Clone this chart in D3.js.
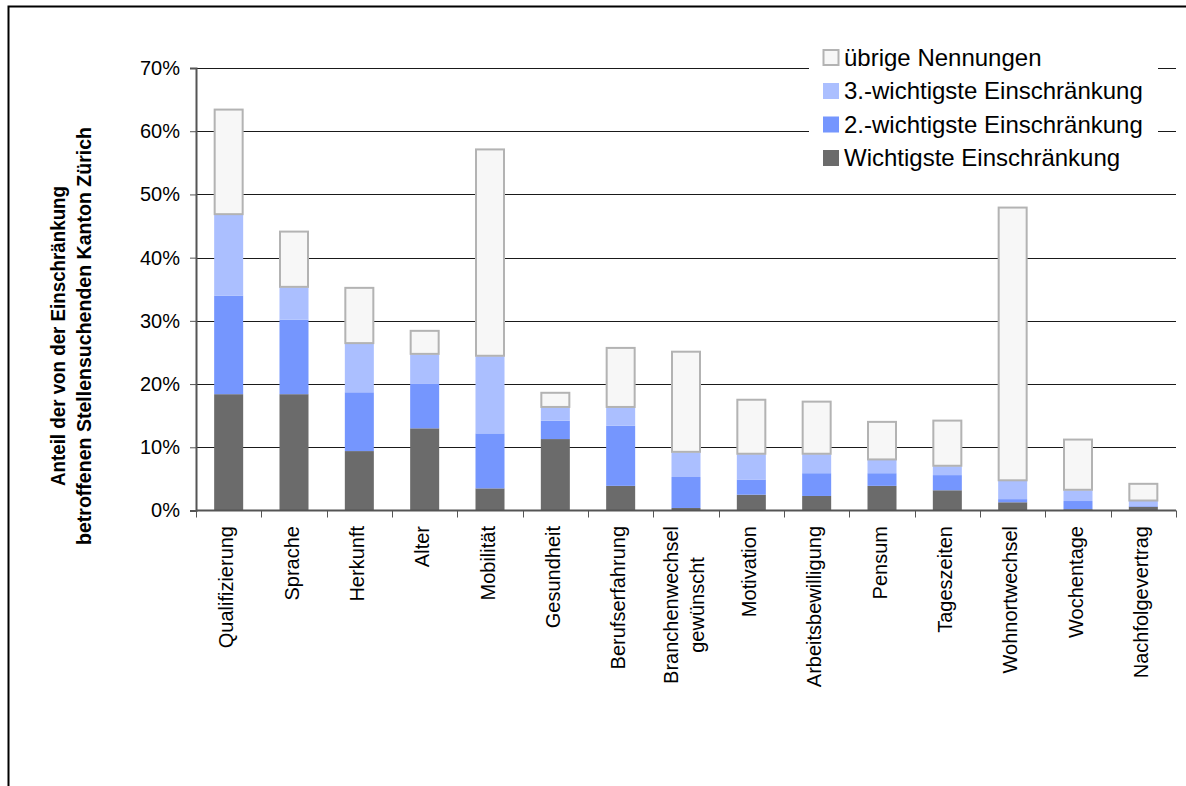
<!DOCTYPE html>
<html>
<head>
<meta charset="utf-8">
<script src="https://cdn.jsdelivr.net/npm/d3@7"></script>
<style>
  html, body { margin: 0; padding: 0; background: #fff; }
  svg { display: block; }
  text { font-family: "Liberation Sans", Arial, sans-serif; fill: #000; }
</style>
</head>
<body>
<svg id="chart" width="1186" height="786"></svg>
<script>
// Kategorien (Einschränkungen) und Anteile in Prozent
const categories = ["Qualifizierung", "Sprache", "Herkunft", "Alter", "Mobilität", "Gesundheit",
  "Berufserfahrung", "Branchenwechsel\ngewünscht", "Motivation", "Arbeitsbewilligung", "Pensum",
  "Tageszeiten", "Wohnortwechsel", "Wochentage", "Nachfolgevertrag"];
const wichtigste = [18.4, 18.4, 9.4, 13.0, 3.5, 11.3, 3.9, 0.4, 2.5, 2.3, 3.9, 3.2, 1.3, 0.2, 0.6];
const zweitwichtigste = [15.6, 11.8, 9.3, 7.1, 8.7, 2.9, 9.5, 4.9, 2.4, 3.6, 2.0, 2.4, 0.5, 1.3, 0.1];
const drittwichtigste = [12.8, 5.1, 7.7, 4.6, 12.2, 2.1, 2.9, 3.9, 4.0, 3.0, 2.1, 1.4, 2.9, 1.7, 0.8];
const uebrige = [16.7, 8.9, 8.9, 3.8, 32.8, 2.4, 9.5, 16.0, 8.7, 8.4, 6.1, 7.3, 43.3, 8.1, 2.8];
const seriesNames = ["Wichtigste Einschränkung", "2.-wichtigste Einschränkung",
  "3.-wichtigste Einschränkung", "übrige Nennungen"];
const yTicks = [0, 10, 20, 30, 40, 50, 60, 70];
const yTitle = ["Anteil der von der Einschränkung", "betroffenen Stellensuchenden Kanton Zürich"];

const colors = ["#6b6b6b", "#7596fe", "#abbfff", "#f7f7f7"];

const svg = d3.select("#chart");

// outer frame
svg.append("rect").attr("x", 8.5).attr("y", 6.5).attr("width", 1300).attr("height", 900)
  .attr("fill", "none").attr("stroke", "#000").attr("stroke-width", 2);

const plotLeft = 196, plotRight = 1176, plotTop = 68, plotBottom = 510.5;

const x = d3.scaleBand().domain(categories).range([plotLeft, plotRight])
  .paddingInner(0.556).paddingOuter(0.278);
const xBoundary = d3.scaleBand().domain(categories).range([plotLeft, plotRight]).padding(0);
const y = d3.scaleLinear().domain([0, 70]).range([plotBottom, plotTop]);

// gridlines
svg.append("g").selectAll("line").data(yTicks.filter(d => d > 0)).join("line")
  .attr("x1", plotLeft).attr("x2", plotRight)
  .attr("y1", d => Math.round(y(d)) + 0.5).attr("y2", d => Math.round(y(d)) + 0.5)
  .attr("stroke", "#1a1a1a").attr("stroke-width", 1);

// stacked data
const rows = categories.map((c, i) => ({
  cat: c, s0: wichtigste[i], s1: zweitwichtigste[i], s2: drittwichtigste[i], s3: uebrige[i]
}));
const stack = d3.stack().keys(["s0", "s1", "s2", "s3"]);
const stacked = stack(rows);

const barG = svg.append("g");
stacked.forEach((layer, k) => {
  barG.append("g").selectAll("rect").data(layer).join("rect")
    .attr("x", d => x(d.data.cat) + (k === 3 ? 0.5 : 0))
    .attr("width", x.bandwidth() - (k === 3 ? 1 : 0))
    .attr("y", d => y(d[1]) + (k === 3 ? 0.5 : 0))
    .attr("height", d => Math.max(0, y(d[0]) - y(d[1]) - (k === 3 ? 1 : 0)))
    .attr("fill", colors[k])
    .attr("stroke", k === 3 ? "#b3b3b3" : "none")
    .attr("stroke-width", k === 3 ? 2 : 0);
});

// legend (white box covering gridlines)
svg.append("rect").attr("x", 809).attr("y", 36).attr("width", 349).attr("height", 145).attr("fill", "#fff");
const legendOrder = [3, 2, 1, 0];
const lg = svg.append("g");
legendOrder.forEach((k, j) => {
  const cy = 57.5 + j * 33.5;
  lg.append("rect").attr("x", k === 3 ? 823.5 : 823).attr("y", k === 3 ? cy - 7.5 : cy - 8)
    .attr("width", k === 3 ? 15 : 16).attr("height", k === 3 ? 15 : 16)
    .attr("fill", colors[k]).attr("stroke", k === 3 ? "#b3b3b3" : "none").attr("stroke-width", 2);
  lg.append("text").attr("x", 844).attr("y", cy + 8).attr("font-size", 24)
    .text(seriesNames[k]);
});

// y axis
const yAxis = d3.axisLeft(y).tickValues(yTicks).tickFormat(d => d + "%").tickSize(6).tickPadding(10);
const ya = svg.append("g").attr("transform", `translate(${plotLeft},0)`).call(yAxis);
ya.select(".domain").attr("stroke", "#555").attr("stroke-width", 2);
ya.selectAll(".tick line").attr("stroke", "#555");
ya.selectAll(".tick text").attr("font-size", 20).attr("font-family", "'Liberation Sans', Arial, sans-serif").attr("fill", "#000");

// x axis line and boundary ticks
svg.append("line").attr("x1", plotLeft).attr("x2", plotRight).attr("y1", plotBottom).attr("y2", plotBottom)
  .attr("stroke", "#555").attr("stroke-width", 2);
const bounds = categories.map(c => xBoundary(c)).concat([plotRight]);
svg.append("g").selectAll("line").data(bounds).join("line")
  .attr("x1", d => Math.round(d) + 0.5).attr("x2", d => Math.round(d) + 0.5)
  .attr("y1", plotBottom).attr("y2", plotBottom + 7).attr("stroke", "#555");

// category labels (rotated)
const labelTop = 526;
const lineGap = 26;
categories.forEach(c => {
  const lines = c.split("\n");
  const cx = x(c) + x.bandwidth() / 2;
  const g = svg.append("g");
  const texts = lines.map((ln, i) => {
    const off = (i - (lines.length - 1) / 2) * lineGap + 4.5;
    return g.append("text").attr("font-size", 20).text(ln)
      .attr("data-off", off);
  });
  const maxLen = d3.max(texts, t => t.node().getComputedTextLength());
  texts.forEach(t => {
    const off = +t.attr("data-off");
    t.attr("text-anchor", "middle")
      .attr("transform", `translate(${cx + off},${labelTop + maxLen / 2}) rotate(-90)`);
  });
});

// y axis title (condensed bold)
const titleCenter = 336;
const titleLens = [300, 418];
const titleBase = [65, 91];
yTitle.forEach((t, i) => {
  svg.append("text").attr("font-size", 21).attr("font-weight", "bold")
    .attr("text-anchor", "middle")
    .attr("textLength", titleLens[i]).attr("lengthAdjust", "spacingAndGlyphs")
    .attr("transform", `translate(${titleBase[i]},${titleCenter}) rotate(-90)`)
    .text(t);
});
</script>
</body>
</html>
